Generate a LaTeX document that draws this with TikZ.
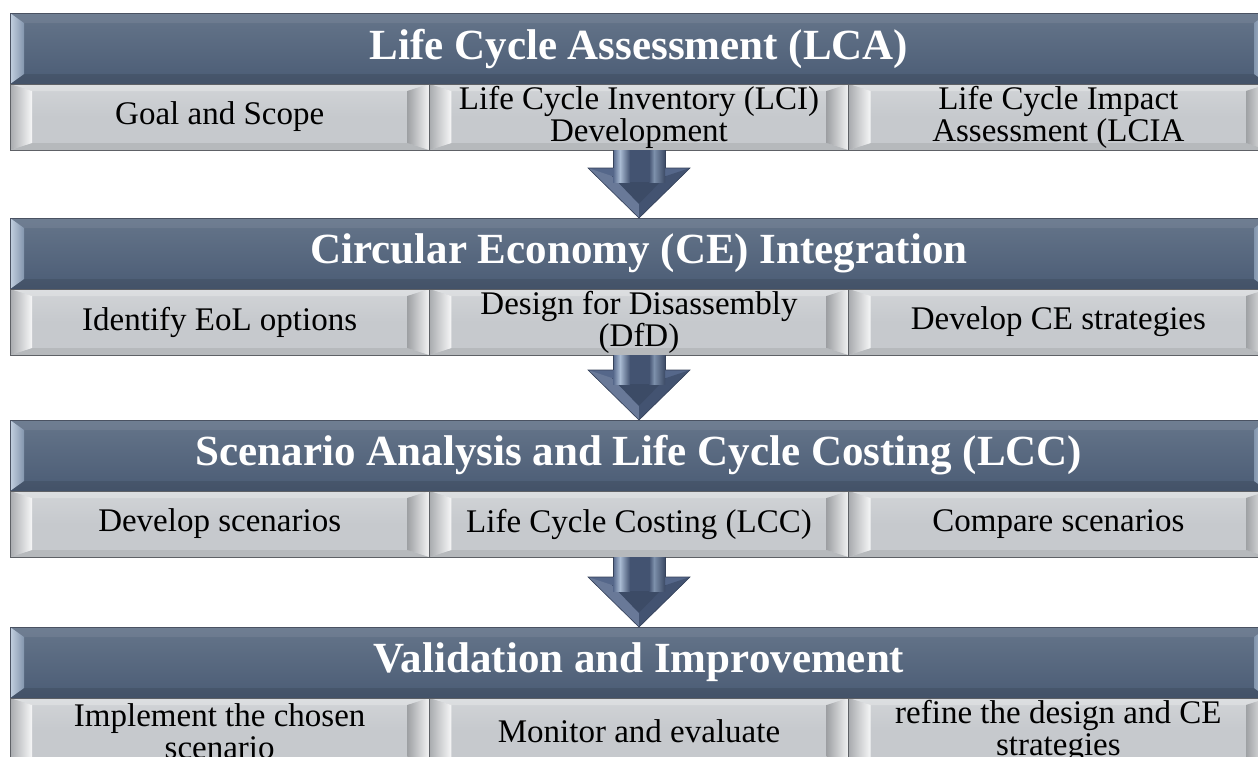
\documentclass[tikz,border=0pt]{standalone}
\usepackage{fontspec}
\setmainfont{Liberation Serif}
\usetikzlibrary{calc}

\definecolor{hdA}{HTML}{65758A}
\definecolor{hdB}{HTML}{4B5C75}
\definecolor{hdEdge}{HTML}{4A5262}
\definecolor{hdLight}{HTML}{A9BCD3}
\definecolor{sbFill}{HTML}{C6C9CD}
\definecolor{sbEdge}{HTML}{5E6166}
\definecolor{arw}{HTML}{55678A}
\definecolor{arwDark}{HTML}{435371}
\definecolor{arwLight}{HTML}{A9BBD3}
\definecolor{arwMid}{HTML}{7D90AB}

\tikzset{
  headbox/.style={
    minimum width=1258pt, minimum height=71pt, inner sep=0pt, outer sep=0pt,
    top color=hdA, bottom color=hdB, draw=hdEdge, line width=0.8pt,
    text=white, font=\fontsize{43}{46}\selectfont\bfseries,
    path picture={
      \coordinate (pSW) at (path picture bounding box.south west);
      \coordinate (pNE) at (path picture bounding box.north east);
      \coordinate (pNW) at (path picture bounding box.north west);
      \coordinate (pSE) at (path picture bounding box.south east);
      % top and bottom faces of the bevel
      \fill[white,opacity=.07] (pNW) -- (pNE) -- ($(pNE)+(-14pt,-10pt)$) -- ($(pNW)+(14pt,-10pt)$) -- cycle;
      \fill[black,opacity=.10] (pSW) -- (pSE) -- ($(pSE)+(-14pt,10pt)$) -- ($(pSW)+(14pt,10pt)$) -- cycle;
      % side faces
      \shade[left color=hdLight!70!white, right color=hdLight!60!hdB]
        (pNW) -- ($(pNW)+(14pt,-10pt)$) -- ($(pSW)+(14pt,10pt)$) -- (pSW) -- cycle;
      \shade[left color=hdLight!60!hdB, right color=hdLight!80!white]
        (pNE) -- ($(pNE)+(-14pt,-10pt)$) -- ($(pSE)+(-14pt,10pt)$) -- (pSE) -- cycle;
    }},
  subbox/.style={
    minimum width=419.33pt, minimum height=66pt, inner sep=0pt, outer sep=0pt,
    top color=sbFill!80!white, bottom color=sbFill, middle color=sbFill,
    draw=sbEdge, line width=1pt, align=center,
    font=\fontsize{33}{32}\selectfont,
    path picture={
      \coordinate (pSW) at (path picture bounding box.south west);
      \coordinate (pNE) at (path picture bounding box.north east);
      \coordinate (pNW) at (path picture bounding box.north west);
      \coordinate (pSE) at (path picture bounding box.south east);
      \fill[white,opacity=.25] (pNW) -- (pNE) -- ($(pNE)+(-22pt,-7pt)$) -- ($(pNW)+(22pt,-7pt)$) -- cycle;
      \fill[black,opacity=.08] (pSW) -- (pSE) -- ($(pSE)+(-22pt,7pt)$) -- ($(pSW)+(22pt,7pt)$) -- cycle;
      \shade[left color=sbFill!85!black, right color=white!85!sbFill]
        (pNW) -- ($(pNW)+(22pt,-7pt)$) -- ($(pSW)+(22pt,7pt)$) -- (pSW) -- cycle;
      \shade[left color=sbFill!80!black, right color=white!80!sbFill]
        (pNE) -- ($(pNE)+(-22pt,-7pt)$) -- ($(pSE)+(-22pt,7pt)$) -- (pSE) -- cycle;
    }},
  arrowedge/.style={draw=arwDark!80!black, line width=0.6pt}
}

\begin{document}
\begin{tikzpicture}[x=1pt,y=-1pt]
\useasboundingbox (0,0) rectangle (1258,756);
\clip (0,0) rectangle (1258,756);
\fill[white] (0,0) rectangle (1258,756);

% stage 1
\node[headbox] (h1) at (639,48.5) {Life Cycle Assessment (LCA)};
\node[subbox, anchor=north west] (l1) at (h1.south west) {Goal and Scope};
\node[subbox, anchor=north] (m1) at (h1.south) {Life Cycle Inventory (LCI)\\Development};
\node[subbox, anchor=north east] (r1) at (h1.south east) {Life Cycle Impact\\Assessment (LCIA};

% stage 2
\node[headbox] (h2) at (639,253.5) {Circular Economy (CE) Integration};
\node[subbox, anchor=north west] (l2) at (h2.south west) {Identify EoL options};
\node[subbox, anchor=north] (m2) at (h2.south) {Design for Disassembly\\(DfD)};
\node[subbox, anchor=north east] (r2) at (h2.south east) {Develop CE strategies};

% stage 3
\node[headbox] (h3) at (639,455.5) {Scenario Analysis and Life Cycle Costing (LCC)};
\node[subbox, anchor=north west] (l3) at (h3.south west) {Develop scenarios};
\node[subbox, anchor=north] (m3) at (h3.south) {Life Cycle Costing (LCC)};
\node[subbox, anchor=north east] (r3) at (h3.south east) {Compare scenarios};

% stage 4
\node[headbox] (h4) at (639,662.5) {Validation and Improvement};
\node[subbox, anchor=north west] (l4) at (h4.south west) {Implement the chosen\\scenario};
\node[subbox, anchor=north] (m4) at (h4.south) {Monitor and evaluate};
\node[subbox, anchor=north east] (r4) at (h4.south east) {refine the design and CE\\strategies};

% block arrows from each stage to the next
\foreach \s/\t in {m1/h2, m2/h3, m3/h4}{
  \coordinate (sb) at (\s.south);
  \begin{scope}[shift={(\t.north)}]
    % head: outer triangle and bevelled faces
    \fill[arw] (-51,-50) -- (51,-50) -- (0,0) -- cycle;
    \fill[arw!88!white] (-51,-50) -- (-27,-42) -- (0,-14) -- (0,0) -- cycle;
    \fill[arwDark] (51,-50) -- (27,-42) -- (0,-14) -- (0,0) -- cycle;
    \fill[arwDark!90!black] (-27,-42) -- (27,-42) -- (0,-14) -- cycle;
    \draw[arrowedge] (-51,-50) -- (51,-50) -- (0,0) -- cycle;
    % shaft with a cylindrical highlight
    \shade[left color=arw, right color=arwLight] ($(sb)+(-26pt,0)$) rectangle (-19,-36);
    \shade[left color=arwLight, right color=arwDark] ($(sb)+(-19pt,0)$) rectangle (-9,-36);
    \fill[arwDark] ($(sb)+(-9pt,0)$) rectangle (10,-36);
    \shade[left color=arwDark, right color=arwMid] ($(sb)+(10pt,0)$) rectangle (15,-36);
    \shade[left color=arwMid, right color=arwDark!90!black] ($(sb)+(15pt,0)$) rectangle (26,-36);
    \draw[arrowedge] ($(sb)+(-26pt,0)$) -- (-26,-50);
    \draw[arrowedge] ($(sb)+(26pt,0)$) -- (26,-50);
  \end{scope}
}
\end{tikzpicture}
\end{document}
